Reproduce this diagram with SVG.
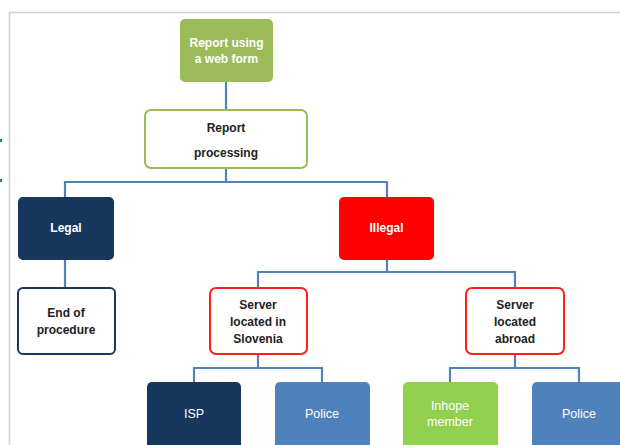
<svg xmlns="http://www.w3.org/2000/svg" width="620" height="445" viewBox="0 0 620 445">
<style>
.b{stroke-width:2}
.t{font-family:"Liberation Sans","Open Sans",sans-serif;font-size:12px;font-weight:bold;text-anchor:middle}
.r{font-family:"Liberation Sans","Open Sans",sans-serif;font-size:12.5px;text-anchor:middle;fill:#fff}
.w{fill:#fff}
.k{fill:#222}
#conn path{fill:none;stroke:#4F81BD;stroke-width:2.2}
</style>
<rect width="620" height="445" fill="#fff"/>
<path d="M9.5 445 V12.5 H620" fill="none" stroke="#cfcfcf" stroke-width="1.5"/>
<rect x="0" y="139" width="2" height="3" fill="#1a9a1a"/>
<rect x="0" y="179" width="2" height="3" fill="#1a9a1a"/>
<g id="conn">
<path d="M226 82 V109"/>
<path d="M226 168 V182 M65 197 V182 H387 V197"/>
<path d="M65 260 V287"/>
<path d="M387 260 V272 M258 287 V272 H515 V287"/>
<path d="M258 354 V368 M194 382 V368 H322 V382"/>
<path d="M515 354 V368 M450 382 V368 H579 V382"/>
</g>
<g id="web"><rect x="180" y="19" width="93" height="63" rx="5" fill="#9BBB59"/><text class="t w" x="226.5" y="47">Report using</text><text class="t w" x="226.5" y="63">a web form</text></g>
<g id="proc"><rect x="145" y="110" width="162" height="58" rx="6" fill="#fff" stroke="#9BBB59" class="b"/><text class="t k" x="226" y="132">Report</text><text class="t k" x="226" y="157">processing</text></g>
<g id="legal"><rect x="18" y="197" width="96" height="63" rx="5" fill="#17375E"/><text class="t w" x="66" y="232">Legal</text></g>
<g id="illegal"><rect x="339" y="197" width="95" height="63" rx="5" fill="#FF0000"/><text class="t w" x="386.5" y="232">Illegal</text></g>
<g id="end"><rect x="18" y="288" width="97" height="66" rx="5" fill="#fff" stroke="#17375E" class="b"/><text class="t k" x="66" y="317">End of</text><text class="t k" x="66" y="334">procedure</text></g>
<g id="slo"><rect x="210" y="288" width="97" height="66" rx="6" fill="#fff" stroke="#FF2020" class="b"/><text class="t k" x="258" y="309">Server</text><text class="t k" x="258" y="326">located in</text><text class="t k" x="258" y="343">Slovenia</text></g>
<g id="abroad"><rect x="466" y="288" width="98" height="66" rx="6" fill="#fff" stroke="#FF2020" class="b"/><text class="t k" x="515" y="309">Server</text><text class="t k" x="515" y="326">located</text><text class="t k" x="515" y="343">abroad</text></g>
<g id="isp"><rect x="147" y="382" width="94" height="70" rx="5" fill="#17375E"/><text class="r" x="194" y="418">ISP</text></g>
<g id="police1"><rect x="275" y="382" width="95" height="70" rx="5" fill="#4F81BD"/><text class="r" x="322" y="418">Police</text></g>
<g id="inhope"><rect x="403" y="382" width="95" height="70" rx="5" fill="#92D050"/><text class="r" x="450" y="410">Inhope</text><text class="r" x="450" y="426">member</text></g>
<g id="police2"><rect x="532" y="382" width="95" height="70" rx="5" fill="#4F81BD"/><text class="r" x="579" y="418">Police</text></g>
</svg>
